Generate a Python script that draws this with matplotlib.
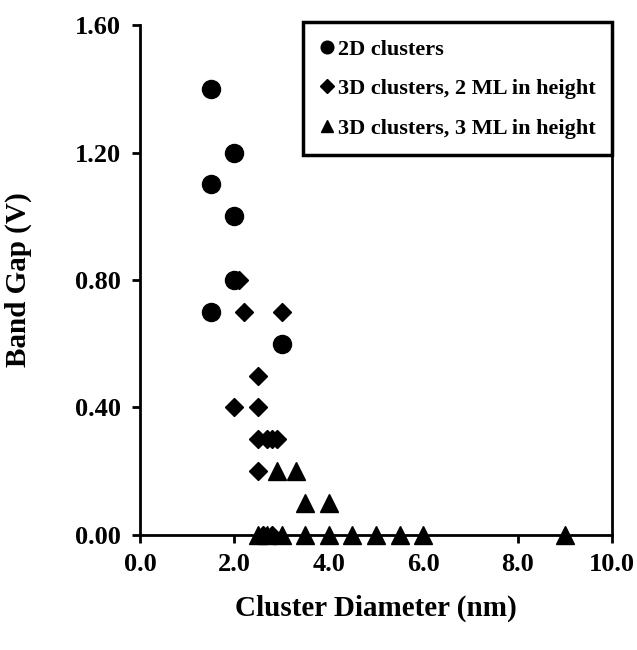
import matplotlib
matplotlib.use('Agg')
import matplotlib.pyplot as plt
from matplotlib.ticker import FormatStrFormatter

# data
d2_x = [1.5, 2.0, 1.5, 2.0, 2.0, 1.5, 3.0]
d2_y = [1.40, 1.20, 1.10, 1.00, 0.80, 0.70, 0.60]

ml2_x = [2.1, 2.2, 3.0, 2.5, 2.0, 2.5, 2.5, 2.7, 2.8, 2.9, 2.5, 2.6, 2.8]
ml2_y = [0.80, 0.70, 0.70, 0.50, 0.40, 0.40, 0.30, 0.30, 0.30, 0.30, 0.20, 0.00, 0.00]

ml3_x = [2.9, 3.3, 3.5, 4.0, 2.5, 2.7, 3.0, 3.5, 4.0, 4.5, 5.0, 5.5, 6.0, 9.0]
ml3_y = [0.20, 0.20, 0.10, 0.10, 0.00, 0.00, 0.00, 0.00, 0.00, 0.00, 0.00, 0.00, 0.00, 0.00]

labels = ['2D clusters', '3D clusters, 2 ML in height', '3D clusters, 3 ML in height']
xticks = [0, 2, 4, 6, 8, 10]
yticks = [0.0, 0.4, 0.8, 1.2, 1.6]

plt.rcParams['font.family'] = ['Liberation Serif', 'DejaVu Serif']
plt.rcParams['font.weight'] = 'bold'

fig = plt.figure(figsize=(6.37, 6.50), dpi=100)
ax = fig.add_axes([0.2198, 0.177, 0.741, 0.7845])

ax.plot(d2_x, d2_y, 'o', color='black', markersize=13, clip_on=False, label=labels[0])
ax.plot(ml2_x, ml2_y, 'D', color='black', markersize=9.5, clip_on=False, label=labels[1])
ax.plot(ml3_x, ml3_y, '^', color='black', markersize=13, clip_on=False, label=labels[2])

ax.set_xlim(0, 10)
ax.set_ylim(0, 1.6)
ax.set_xticks(xticks)
ax.set_yticks(yticks)
ax.xaxis.set_major_formatter(FormatStrFormatter('%.1f'))
ax.yaxis.set_major_formatter(FormatStrFormatter('%.2f'))
ax.tick_params(axis='both', direction='out', length=6, width=2, labelsize=19)
ax.tick_params(axis='y', pad=8)
ax.tick_params(axis='x', pad=7)
for lab in ax.get_xticklabels() + ax.get_yticklabels():
    lab.set_fontweight('bold')

ax.spines['top'].set_visible(False)
for s in ['left', 'right', 'bottom']:
    ax.spines[s].set_linewidth(2)

ax.set_xlabel('Cluster Diameter (nm)', fontsize=21, fontweight='bold', va='center')
ax.set_ylabel('Band Gap (V)', fontsize=21, fontweight='bold', va='center')
ax.xaxis.set_label_coords(0.5, -0.143)
ax.yaxis.set_label_coords(-0.258, 0.5)

leg = ax.legend(loc='upper right', bbox_to_anchor=(1.0, 1.005), fontsize=16,
                markerscale=0.7, handlelength=0.6, handletextpad=0.2,
                labelspacing=0.85, borderpad=0.75, fancybox=False, framealpha=1,
                edgecolor='black', borderaxespad=0)
leg.get_frame().set_linewidth(2.5)
for t in leg.get_texts():
    t.set_fontweight('bold')

fig.savefig('out.png', dpi=100)
plt.close()
